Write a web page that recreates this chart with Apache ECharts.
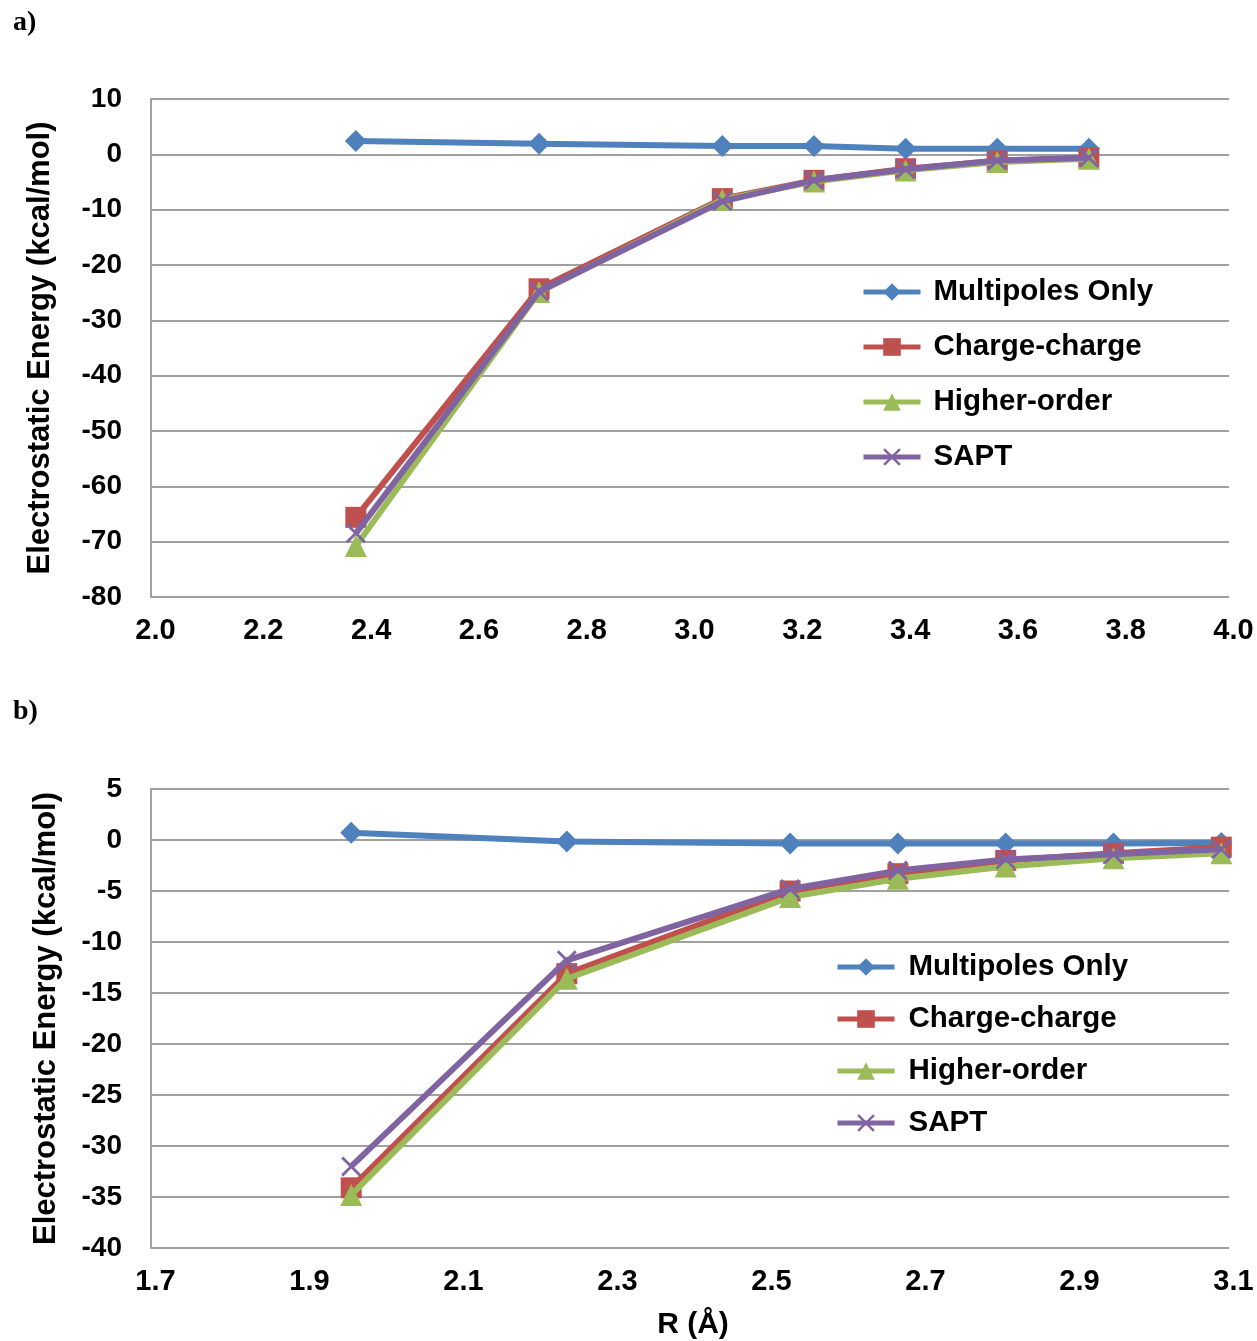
<!DOCTYPE html>
<html>
<head>
<meta charset="utf-8">
<script src="https://cdn.jsdelivr.net/npm/echarts@6/dist/echarts.min.js"></script>
<style>html,body{margin:0;padding:0;background:#fff}#c{width:1257px;height:1341px}</style>
</head>
<body>
<div id="c"></div>
<script>
// ---- data ----
var seriesNames = ['Multipoles Only', 'Charge-charge', 'Higher-order', 'SAPT'];

var topR = [2.38, 2.72, 3.06, 3.23, 3.40, 3.57, 3.74];
var topMultipoles = [2.4, 1.9, 1.5, 1.5, 1.0, 1.0, 1.0];
var topCharge = [-65.6, -24.3, -8.0, -4.7, -2.6, -1.2, -0.6];
var topHigher = [-70.8, -24.9, -8.2, -4.9, -2.9, -1.4, -0.8];
var topSAPT = [-68.5, -24.8, -8.5, -4.7, -2.7, -1.1, -0.6];
var topXTicks = [2.0, 2.2, 2.4, 2.6, 2.8, 3.0, 3.2, 3.4, 3.6, 3.8, 4.0];

var botR = [1.96, 2.24, 2.53, 2.67, 2.81, 2.95, 3.09];
var botMultipoles = [0.7, -0.15, -0.35, -0.35, -0.35, -0.35, -0.3];
var botCharge = [-34.1, -13.1, -5.0, -3.3, -2.0, -1.3, -0.7];
var botHigher = [-34.8, -13.6, -5.6, -3.8, -2.6, -1.8, -1.3];
var botSAPT = [-32.0, -11.8, -4.8, -3.0, -1.9, -1.4, -0.9];
var botXTicks = [1.7, 1.9, 2.1, 2.3, 2.5, 2.7, 2.9, 3.1];

var yTitle = 'Electrostatic Energy (kcal/mol)';
var xTitle = 'R (Å)';

// ---- styling ----
var FONT = '"Liberation Sans", Arial, sans-serif';
var colors = ['#4F81BD', '#C0504D', '#9BBB59', '#8064A2'];
var xPath = 'path://M0,1 L1,0 L5,4 L9,0 L10,1 L6,5 L10,9 L9,10 L5,6 L1,10 L0,9 L4,5 Z';
var symbols = ['diamond', 'rect', 'triangle', xPath];
var symSizes = [22, 21, 22, 20];
var GRID = '#A0A0A0';

function zip(xs, ys) { return xs.map(function (x, i) { return [x, ys[i]]; }); }

function mkSeries(idx, xs, ys, k) {
  return {
    type: 'line', name: seriesNames[k], xAxisIndex: idx, yAxisIndex: idx,
    data: zip(xs, ys), symbol: symbols[k], symbolSize: symSizes[k],
    color: colors[k],
    lineStyle: { width: 6, color: colors[k] },
    itemStyle: { color: colors[k] },
    animation: false, z: 2 + k
  };
}

function xAxisCfg(idx, min, max, ticks, name) {
  return {
    type: 'value', gridIndex: idx, min: min, max: max,
    axisLine: { show: false }, axisTick: { show: false }, splitLine: { show: false },
    axisLabel: {
      customValues: ticks, margin: 19, padding: [0, 0, 0, 9],
      formatter: function (v) { return (+v).toFixed(1); },
      color: '#000', fontSize: 29, fontWeight: 'bold', fontFamily: FONT
    },
    name: name || '', nameLocation: 'middle', nameGap: 62,
    nameTextStyle: { color: '#000', fontSize: 30, fontWeight: 'bold', fontFamily: FONT, padding: [0, 0, 0, 6] }
  };
}

function yAxisCfg(idx, min, max, interval, gap) {
  return {
    type: 'value', gridIndex: idx, min: min, max: max, interval: interval,
    axisLine: { show: true, lineStyle: { color: GRID, width: 2 } },
    axisTick: { show: false },
    splitLine: { show: true, lineStyle: { color: GRID, width: 2 } },
    axisLabel: { margin: 29, color: '#000', fontSize: 28, fontWeight: 'bold', fontFamily: FONT },
    name: yTitle, nameLocation: 'middle', nameGap: gap,
    nameTextStyle: { color: '#000', fontSize: 31, fontWeight: 'bold', fontFamily: FONT }
  };
}

function legendCfg(left, top, gap, pad) {
  return {
    show: true, orient: 'vertical', left: left, top: top,
    itemWidth: 57, itemHeight: 22, itemGap: gap,
    data: seriesNames,
    selectedMode: false,
    lineStyle: { width: 5 },
    textStyle: { color: '#000', fontSize: 29.5, fontWeight: 'bold', fontFamily: FONT, lineHeight: 30, padding: [0, 0, 0, pad] }
  };
}

var series = [];
[topMultipoles, topCharge, topHigher, topSAPT].forEach(function (ys, k) { series.push(mkSeries(0, topR, ys, k)); });
[botMultipoles, botCharge, botHigher, botSAPT].forEach(function (ys, k) { series.push(mkSeries(1, botR, ys, k)); });

var option = {
  backgroundColor: '#fff',
  animation: false,
  grid: [
    { left: 151, top: 99, width: 1078, height: 498 },
    { left: 151, top: 789, width: 1078, height: 459 }
  ],
  xAxis: [
    xAxisCfg(0, 2.0, 4.0, topXTicks, ''),
    xAxisCfg(1, 1.7, 3.1, botXTicks, xTitle)
  ],
  yAxis: [
    yAxisCfg(0, -80, 10, 10, 95),
    yAxisCfg(1, -40, 5, 5, 89)
  ],
  legend: [
    legendCfg(856, 272, 25, 8),
    legendCfg(830, 947, 22, 9)
  ],
  graphic: [
    { type: 'text', left: 13, top: 9, style: { text: 'a)', font: 'bold 28px "Liberation Serif", serif', fill: '#000' } },
    { type: 'text', left: 13, top: 698, style: { text: 'b)', font: 'bold 28px "Liberation Serif", serif', fill: '#000' } }
  ],
  series: series
};

var chart = echarts.init(document.getElementById('c'), null, { renderer: 'canvas' });
chart.setOption(option);
</script>
</body>
</html>
